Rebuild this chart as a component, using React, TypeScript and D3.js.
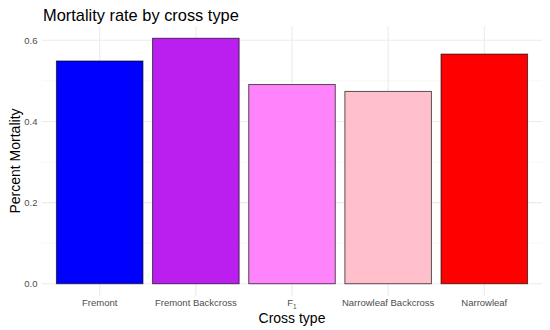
import { useEffect, useRef } from 'react'
import * as d3 from 'd3'

const categories = ['Fremont', 'Fremont Backcross', 'F1', 'Narrowleaf Backcross', 'Narrowleaf']
const mortality = [0.549, 0.605, 0.491, 0.474, 0.566]
const barColors = ['#0000FF', '#BB1FF0', '#FF83FA', '#FFC0CB', '#FF0000']
const yTicks = [0, 0.2, 0.4, 0.6]

export default function App() {
  const ref = useRef<SVGSVGElement>(null)

  useEffect(() => {
    if (!ref.current) return
    const W = 550
    const H = 330
    const m = { top: 26, right: 8, bottom: 34, left: 42 }
    const svg = d3.select(ref.current)
    svg.selectAll('*').remove()
    svg.append('rect').attr('width', W).attr('height', H).attr('fill', '#fff')

    const ymax = d3.max(mortality) as number
    const y = d3.scaleLinear()
      .domain([-ymax * 0.05, ymax * 1.05])
      .range([H - m.bottom, m.top])

    // ggplot-style discrete expansion of 0.6 units
    const n = categories.length
    const left = m.left
    const right = W - m.right
    const step = (right - left) / (n - 1 + 1.2)
    const x = d3.scalePoint<string>()
      .domain(categories)
      .range([left + 0.6 * step, right - 0.6 * step])
    const bw = step * 0.9

    const g = svg.append('g')

    // minor grid
    const minor = [0.1, 0.3, 0.5]
    g.selectAll('.minor')
      .data(minor)
      .enter()
      .append('line')
      .attr('x1', left).attr('x2', right)
      .attr('y1', d => y(d)).attr('y2', d => y(d))
      .attr('stroke', '#f2f2f2').attr('stroke-width', 0.6)

    // major grid
    g.selectAll('.hgrid')
      .data(yTicks)
      .enter()
      .append('line')
      .attr('x1', left).attr('x2', right)
      .attr('y1', d => y(d)).attr('y2', d => y(d))
      .attr('stroke', '#ebebeb').attr('stroke-width', 1.1)

    g.selectAll('.vgrid')
      .data(categories)
      .enter()
      .append('line')
      .attr('x1', d => x(d) as number).attr('x2', d => x(d) as number)
      .attr('y1', m.top).attr('y2', H - m.bottom)
      .attr('stroke', '#ebebeb').attr('stroke-width', 1.1)

    // bars
    g.selectAll('.bar')
      .data(categories)
      .enter()
      .append('rect')
      .attr('x', d => (x(d) as number) - bw / 2)
      .attr('y', (_, i) => y(mortality[i]))
      .attr('width', bw)
      .attr('height', (_, i) => y(0) - y(mortality[i]))
      .attr('fill', (_, i) => barColors[i])
      .attr('stroke', '#000')
      .attr('stroke-opacity', 0.65)
      .attr('stroke-width', 1)

    // y tick labels
    g.selectAll('.ylab')
      .data(yTicks)
      .enter()
      .append('text')
      .attr('x', left - 4.5)
      .attr('y', d => y(d))
      .attr('dy', '0.35em')
      .attr('text-anchor', 'end')
      .attr('fill', '#4d4d4d')
      .style('font-family', 'Liberation Sans, Arial, sans-serif')
      .style('font-size', '9.5px')
      .text(d => d.toFixed(1))

    // x tick labels
    const xl = g.selectAll('.xlab')
      .data(categories)
      .enter()
      .append('text')
      .attr('x', d => x(d) as number)
      .attr('y', H - m.bottom + 10)
      .attr('text-anchor', 'middle')
      .attr('fill', '#4d4d4d')
      .style('font-family', 'Liberation Sans, Arial, sans-serif')
      .style('font-size', '9.5px')
    xl.each(function (d) {
      const t = d3.select(this)
      if (d === 'F1') {
        t.append('tspan').text('F')
        t.append('tspan').attr('dy', 2.5).style('font-size', '6.5px').text('1')
      } else {
        t.text(d)
      }
    })

    // axis titles
    svg.append('text')
      .attr('x', (left + right) / 2)
      .attr('y', H - 7)
      .attr('text-anchor', 'middle')
      .style('font-family', 'Liberation Sans, Arial, sans-serif')
      .style('font-size', '14px')
      .text('Cross type')

    svg.append('text')
      .attr('transform', `translate(20,${(m.top + H - m.bottom) / 2}) rotate(-90)`)
      .attr('text-anchor', 'middle')
      .style('font-family', 'Liberation Sans, Arial, sans-serif')
      .style('font-size', '14px')
      .text('Percent Mortality')

    svg.append('text')
      .attr('x', 43)
      .attr('y', 21)
      .style('font-family', 'Liberation Sans, Arial, sans-serif')
      .style('font-size', '16.4px')
      .text('Mortality rate by cross type')
  }, [])

  return (
    <svg ref={ref} width={550} height={330} style={{ position: 'absolute', left: 0, top: 0 }} />
  )
}
